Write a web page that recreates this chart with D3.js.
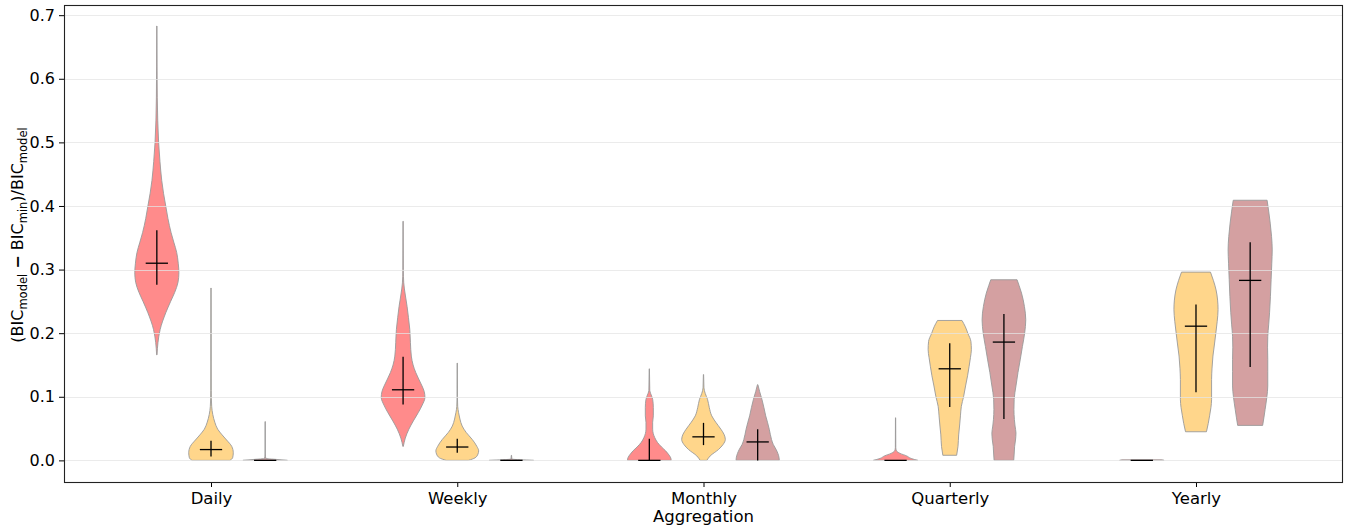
<!DOCTYPE html>
<html>
<head>
<meta charset="utf-8">
<script src="https://cdn.jsdelivr.net/npm/d3@7"></script>
<style>
  body { margin: 0; background: #fff; }
  text { font-family: "DejaVu Sans", sans-serif; fill: #000; }
</style>
</head>
<body>
<svg id="chart" width="1349" height="530"></svg>
<script>
// ---- data ---------------------------------------------------------------
const categories = ["Daily", "Weekly", "Monthly", "Quarterly", "Yearly"];
const yTickValues = [0, 0.1, 0.2, 0.3, 0.4, 0.5, 0.6, 0.7];
const seriesKeys = ["red", "yellow", "brown"];

// Density profiles per aggregation level: [value, relative density (0..1)]
const redProfiles = [
  [[0.166,0.01],[0.185,0.05],[0.206,0.15],[0.232,0.40],[0.250,0.62],[0.264,0.80],[0.280,0.95],[0.295,0.99],[0.310,0.96],[0.327,0.89],[0.342,0.77],[0.358,0.64],[0.380,0.50],[0.400,0.40],[0.420,0.30],[0.440,0.22],[0.470,0.14],[0.500,0.08],[0.535,0.04],[0.570,0.02],[0.620,0.01],[0.683,0.005]],
  [[0.022,0.01],[0.035,0.10],[0.049,0.26],[0.062,0.46],[0.075,0.68],[0.087,0.86],[0.099,0.98],[0.108,0.95],[0.117,0.85],[0.128,0.70],[0.138,0.57],[0.150,0.45],[0.164,0.37],[0.185,0.33],[0.206,0.30],[0.225,0.24],[0.242,0.18],[0.260,0.10],[0.279,0.03],[0.300,0.01],[0.376,0.005]],
  [[0,0.98],[0.004,0.96],[0.010,0.85],[0.015,0.73],[0.021,0.55],[0.028,0.37],[0.036,0.24],[0.049,0.15],[0.060,0.15],[0.070,0.18],[0.083,0.18],[0.096,0.15],[0.105,0.06],[0.110,0.02],[0.144,0.005]],
  [[0,1],[0.003,0.70],[0.007,0.50],[0.011,0.20],[0.015,0.04],[0.020,0.01],[0.067,0.005]],
  [[0,1],[0.0008,0.9]]
];
const redCenter = [0.310, 0.111, 0, 0, 0];
const redLow    = [0.276, 0.088, 0, 0, 0];
const redHigh   = [0.362, 0.163, 0.034, 0, 0];

const yellowProfiles = [
  [[0,0.85],[0.004,0.97],[0.012,1.0],[0.022,0.93],[0.032,0.70],[0.040,0.50],[0.049,0.30],[0.060,0.17],[0.072,0.08],[0.085,0.03],[0.110,0.01],[0.271,0.005]],
  [[0,0.50],[0.004,0.80],[0.010,0.93],[0.015,0.96],[0.022,0.88],[0.033,0.67],[0.044,0.40],[0.054,0.22],[0.065,0.12],[0.075,0.06],[0.085,0.02],[0.100,0.008],[0.153,0.005]],
  [[0,0.15],[0.007,0.30],[0.017,0.67],[0.025,0.88],[0.033,0.98],[0.041,0.92],[0.049,0.78],[0.060,0.55],[0.070,0.37],[0.083,0.26],[0.096,0.18],[0.105,0.08],[0.114,0.02],[0.135,0.005]],
  [[0.008,0.31],[0.022,0.37],[0.040,0.40],[0.054,0.44],[0.070,0.48],[0.085,0.52],[0.100,0.62],[0.117,0.71],[0.133,0.80],[0.148,0.87],[0.162,0.93],[0.174,0.97],[0.187,0.95],[0.200,0.81],[0.210,0.70],[0.220,0.55]],
  [[0.045,0.47],[0.058,0.55],[0.070,0.61],[0.083,0.67],[0.096,0.70],[0.127,0.70],[0.145,0.72],[0.164,0.76],[0.183,0.83],[0.200,0.89],[0.218,0.95],[0.237,0.99],[0.252,0.97],[0.268,0.90],[0.283,0.78],[0.296,0.65]]
];
const yellowCenter = [0.017, 0.021, 0.037, 0.144, 0.211];
const yellowLow    = [0.006, 0.012, 0.024, 0.084, 0.107];
const yellowHigh   = [0.031, 0.034, 0.059, 0.184, 0.245];

const brownProfiles = [
  [[0,1],[0.0015,0.5],[0.003,0.03],[0.010,0.005],[0.061,0.005]],
  [[0,1],[0.001,0.4],[0.002,0.02],[0.008,0.005]],
  [[0,0.97],[0.004,0.96],[0.017,0.83],[0.025,0.70],[0.033,0.62],[0.049,0.52],[0.060,0.44],[0.070,0.36],[0.083,0.28],[0.096,0.19],[0.108,0.09],[0.119,0.01]],
  [[0,0.44],[0.010,0.46],[0.022,0.48],[0.032,0.52],[0.043,0.54],[0.054,0.50],[0.064,0.47],[0.080,0.45],[0.096,0.46],[0.117,0.54],[0.138,0.63],[0.158,0.73],[0.179,0.83],[0.200,0.93],[0.221,0.98],[0.242,0.92],[0.263,0.79],[0.275,0.68],[0.284,0.59]],
  [[0.055,0.56],[0.068,0.62],[0.080,0.67],[0.100,0.75],[0.117,0.79],[0.140,0.79],[0.159,0.79],[0.178,0.78],[0.195,0.79],[0.213,0.83],[0.232,0.87],[0.258,0.91],[0.284,0.94],[0.310,0.97],[0.331,0.99],[0.352,0.96],[0.373,0.90],[0.392,0.83],[0.409,0.76]]
];
const brownCenter = [0, 0, 0.029, 0.186, 0.283];
const brownLow    = [0, 0, 0, 0.065, 0.147];
const brownHigh   = [0, 0, 0.049, 0.230, 0.343];

// ---- layout & style -----------------------------------------------------
const colors = { red: "#ff8b8b", yellow: "#ffd68b", brown: "#d4a0a1" };
const offsets = { red: -0.22, yellow: 0, brown: 0.22 };
const violinWidth = 0.181;   // in category units

const seriesData = {
  red:    { profiles: redProfiles,    center: redCenter,    low: redLow,    high: redHigh },
  yellow: { profiles: yellowProfiles, center: yellowCenter, low: yellowLow, high: yellowHigh },
  brown:  { profiles: brownProfiles,  center: brownCenter,  low: brownLow,  high: brownHigh }
};

const margin = { left: 64, right: 6, top: 5, bottom: 48 };
const W = 1349, H = 530;
const plotW = W - margin.left - margin.right;
const plotH = H - margin.top - margin.bottom;

const svg = d3.select("#chart");
const g = svg.append("g").attr("transform", `translate(${margin.left},${margin.top})`);

const x = d3.scaleLinear().domain([-0.597, categories.length - 1 + 0.597]).range([0, plotW]);
const y = d3.scaleLinear().domain([-0.034, 0.716]).range([plotH, 0]);
const halfPx = (x(violinWidth) - x(0)) / 2;

// ---- violins ------------------------------------------------------------
seriesKeys.forEach(key => {
  const s = seriesData[key];
  s.profiles.forEach((prof, i) => {
    const cx = x(i + offsets[key]);
    const area = d3.area()
      .curve(d3.curveMonotoneY)
      .y(d => y(d[0]))
      .x0(d => cx - d[1] * halfPx)
      .x1(d => cx + d[1] * halfPx);
    g.append("path")
      .attr("d", area(prof))
      .attr("fill", colors[key])
      .attr("stroke", "#9a9a9a")
      .attr("stroke-width", 0.9);
  });
});

// ---- grid (drawn over the fills, semi transparent) ---------------------
g.append("g").selectAll("line").data(yTickValues).join("line")
  .attr("x1", 0).attr("x2", plotW)
  .attr("y1", d => Math.round(y(d)) + 0.5).attr("y2", d => Math.round(y(d)) + 0.5)
  .attr("stroke", "#e4e4e4").attr("stroke-opacity", 0.75).attr("stroke-width", 1);

// ---- centre / spread markers -------------------------------------------
seriesKeys.forEach(key => {
  const s = seriesData[key];
  s.center.forEach((c, i) => {
    const cx = x(i + offsets[key]);
    if (s.high[i] > s.low[i]) {
      g.append("line")
        .attr("x1", cx).attr("x2", cx)
        .attr("y1", y(s.low[i])).attr("y2", y(s.high[i]))
        .attr("stroke", "#000").attr("stroke-width", 1.3);
    }
    g.append("line")
      .attr("x1", cx - halfPx / 2).attr("x2", cx + halfPx / 2)
      .attr("y1", y(c)).attr("y2", y(c))
      .attr("stroke", "#000").attr("stroke-width", 1.3);
  });
});

// ---- axes ---------------------------------------------------------------
const yAxis = d3.axisLeft(y).tickValues(yTickValues).tickFormat(d3.format(".1f")).tickSize(5).tickPadding(4);
const ya = g.append("g").call(yAxis);
ya.select(".domain").remove();
ya.selectAll("text").style("font-size", "16px").style("font-family", "DejaVu Sans");
ya.selectAll("line").attr("stroke", "#000");

const xAxis = d3.axisBottom(x).tickValues(d3.range(categories.length)).tickFormat(i => categories[i]).tickSize(5).tickPadding(5);
const xa = g.append("g").attr("transform", `translate(0,${plotH})`).call(xAxis);
xa.select(".domain").remove();
xa.selectAll("text").style("font-size", "16.5px").style("font-family", "DejaVu Sans");
xa.selectAll("line").attr("stroke", "#000");

// frame
g.append("rect")
  .attr("x", 0.5).attr("y", 0.5).attr("width", plotW - 1).attr("height", plotH)
  .attr("fill", "none").attr("stroke", "#222").attr("stroke-width", 1.1);

// axis titles
svg.append("text")
  .attr("x", margin.left + plotW / 2).attr("y", 522)
  .attr("text-anchor", "middle").style("font-size", "16.5px")
  .text("Aggregation");

const yl = svg.append("text")
  .attr("transform", `translate(23,235) rotate(-90)`)
  .attr("text-anchor", "middle").style("font-size", "16px");
const sub = (t) => yl.append("tspan").attr("dy", 4).style("font-size", "11.5px").text(t);
const main = (t) => yl.append("tspan").attr("dy", -4).text(t);
yl.append("tspan").text("(BIC");
sub("model");
main(" ");
yl.append("tspan").style("font-weight", "bold").text("\u2212");
yl.append("tspan").text(" BIC");
sub("min");
main(")/BIC");
sub("model");
</script>
</body>
</html>
